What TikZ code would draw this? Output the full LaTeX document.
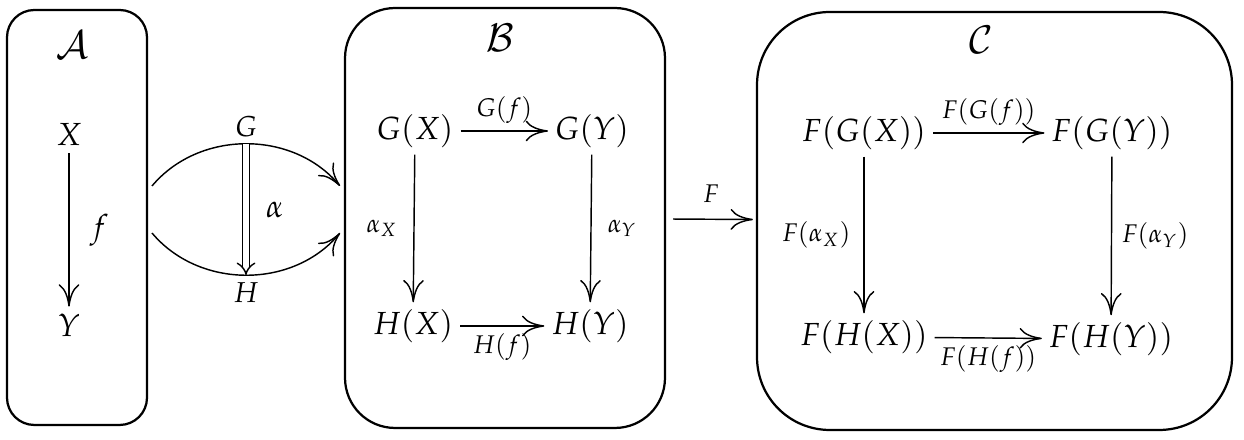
\documentclass[tikz,border=0pt]{standalone}
\usepackage{amsmath}
\usepackage{mathpazo}
\usetikzlibrary{arrows.meta}

\begin{document}
\begin{tikzpicture}[x=0.011cm,y=-0.011cm,
    cat/.style={draw=black,line width=0.7pt,inner sep=0pt,outer sep=0pt},
    obj/.style={inner sep=2pt},
    map/.style={line width=0.45pt,-{To[length=7pt,width=6.5pt]}},
    lbl/.style={font=\footnotesize,inner sep=2pt}]
  \useasboundingbox (0,0) rectangle (1244,440);
  % the three categories as rounded frames
  \node[cat,rounded corners=0.3cm,minimum width=1.54cm,minimum height=4.565cm]
    (catA) at (77,217.5) {};
  \node[cat,rounded corners=0.55cm,minimum width=3.52cm,minimum height=4.62cm]
    (catB) at (505,218) {};
  \node[cat,rounded corners=0.8cm,minimum width=5.225cm,minimum height=4.598cm]
    (catC) at (994.5,221) {};
  \node[font=\large] (nameA) at (72,45) {$\mathcal{A}$};
  \node[font=\large] (nameB) at (500,38) {$\mathcal{B}$};
  \node[font=\large] (nameC) at (981,40) {$\mathcal{C}$};
  % in A
  \node[obj] (X) at (69,135) {$X$};
  \node[obj] (Y) at (69,325) {$Y$};
  \draw[map] (X) -- node[right=3pt] {$f$} (Y);
  % the two functors and alpha
  \coordinate (gs) at (152,186);
  \coordinate (ge) at (340,186);
  \coordinate (hs) at (152,233);
  \coordinate (he) at (340,233);
  \draw[map] (gs) to[out=50,in=130]
    node[coordinate,pos=0.5] (gm) {}
    node[above,lbl,font=\small] (G) {$G$} (ge);
  \draw[map] (hs) to[out=-50,in=-130]
    node[coordinate,pos=0.5] (hm) {}
    node[below,lbl,font=\small] (H) {$H$} (he);
  \draw[line width=0.45pt,double distance=1.6pt,-{Implies}] (gm) --
    node[right=4pt,inner sep=2pt] {$\alpha$} (hm);
  % in B
  \node[obj] (GX) at (415,131) {$G(X)$};
  \node[obj] (GY) at (592,131) {$G(Y)$};
  \node[obj] (HX) at (413,326) {$H(X)$};
  \node[obj] (HY) at (590,326) {$H(Y)$};
  \draw[map] (GX) -- node[above,lbl] {$G(f)$} (GY);
  \draw[map] (HX) -- node[below,lbl] {$H(f)$} (HY);
  \draw[map] (GX) -- node[left=3pt,lbl] {$\alpha_X$} (HX);
  \draw[map] (GY) -- node[right=3pt,lbl] {$\alpha_Y$} (HY);
  % the functor F
  \draw[map,shorten <=0.09cm,shorten >=0.045cm] (catB) --
    node[above=3pt,lbl] {$F$} (catC);
  % in C
  \node[obj] (FGX) at (864,133) {$F(G(X))$};
  \node[obj] (FGY) at (1112,133) {$F(G(Y))$};
  \node[obj] (FHX) at (864,337) {$F(H(X))$};
  \node[obj] (FHY) at (1111,339) {$F(H(Y))$};
  \draw[map] (FGX) -- node[above,lbl] {$F(G(f))$} (FGY);
  \draw[map] (FHX) -- node[below,lbl] {$F(H(f))$} (FHY);
  \draw[map] (FGX) -- node[left=2pt,lbl] {$F(\alpha_X)$} (FHX);
  \draw[map] (FGY) -- node[right=1pt,lbl] {$F(\alpha_Y)$} (FHY);
\end{tikzpicture}
\end{document}
